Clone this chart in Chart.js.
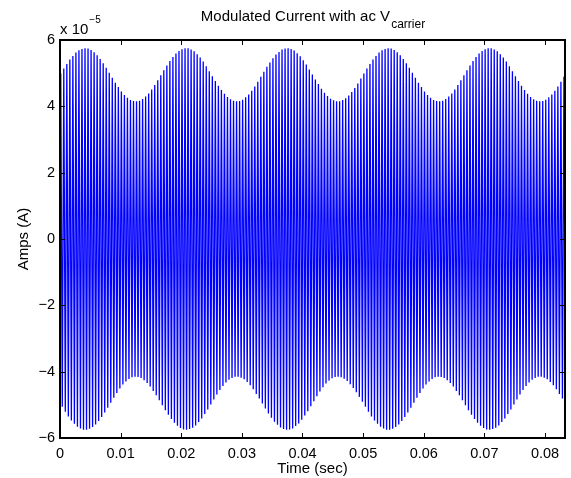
<!DOCTYPE html>
<html><head><meta charset="utf-8">
<script src="https://cdn.jsdelivr.net/npm/chart.js@4/dist/chart.umd.min.js"></script>
<style>html,body{margin:0;padding:0;background:#fff;}#wrap{position:relative;width:571px;height:478px;}</style>
</head><body><div id="wrap"><canvas id="c" width="571" height="478"></canvas></div>
<script>
const titleMain = 'Modulated Current with ac V';
const titleSub = 'carrier';
const xLabel = 'Time (sec)';
const yLabel = 'Amps (A)';
const yScaleBase = 'x 10';
const yScaleExp = '\u22125';
const xTickValues = [0, 0.01, 0.02, 0.03, 0.04, 0.05, 0.06, 0.07, 0.08];
const xTickLabels = ['0', '0.01', '0.02', '0.03', '0.04', '0.05', '0.06', '0.07', '0.08'];
const yTickValues = [-6, -4, -2, 0, 2, 4, 6];
const yTickLabels = ['\u22126', '\u22124', '\u22122', '0', '2', '4', '6'];
const xMin = 0, xMax = 0.0833;
const yMin = -6, yMax = 6;
// carrier half-cycle peaks (units of 1e-5 A), first at 0.125 ms, one every 0.25 ms
const sampleStart = 0.000125;
const sampleStep = 0.00025;
const currentPeaks = [
 4.99,-5.06,5.14,-5.21,5.28,-5.35,5.41,-5.47,5.52,-5.57,
 5.62,-5.66,5.69,-5.71,5.73,-5.75,5.75,-5.75,5.74,-5.72,
 5.70,-5.67,5.63,-5.59,5.54,-5.49,5.43,-5.37,5.30,-5.23,
 5.16,-5.09,5.01,-4.94,4.86,-4.79,4.71,-4.64,4.58,-4.51,
 4.45,-4.39,4.34,-4.30,4.26,-4.22,4.19,-4.17,4.16,-4.15,
 4.15,-4.16,4.17,-4.19,4.22,-4.26,4.30,-4.34,4.39,-4.45,
 4.51,-4.58,4.64,-4.71,4.79,-4.86,4.94,
 -5.01,5.09,-5.16,5.23,-5.30,5.37,-5.43,5.49,-5.54,5.59,
 -5.63,5.67,-5.70,5.72,-5.74,5.75,-5.75,5.75,-5.73,5.71,
 -5.69,5.66,-5.62,5.57,-5.52,5.47,-5.41,5.35,-5.28,5.21,
 -5.14,5.06,-4.99,4.91,-4.84,4.76,-4.69,4.62,-4.55,4.49,
 -4.43,4.38,-4.33,4.28,-4.24,4.21,-4.19,4.17,-4.15,4.15,
 -4.15,4.16,-4.18,4.20,-4.23,4.27,-4.31,4.36,-4.41,4.47,
 -4.53,4.60,-4.67,4.74,-4.81,4.89,
 -4.96,5.04,-5.11,5.19,-5.26,5.32,-5.39,5.45,-5.51,5.56,
 -5.60,5.64,-5.68,5.71,-5.73,5.74,-5.75,5.75,-5.74,5.73,
 -5.71,5.68,-5.64,5.60,-5.56,5.51,-5.45,5.39,-5.32,5.26,
 -5.19,5.11,-5.04,4.96,-4.89,4.81,-4.74,4.67,-4.60,4.53,
 -4.47,4.41,-4.36,4.31,-4.27,4.23,-4.20,4.18,-4.16,4.15,
 -4.15,4.15,-4.17,4.19,-4.21,4.24,-4.28,4.33,-4.38,4.43,
 -4.49,4.55,-4.62,4.69,-4.76,4.84,-4.91,
 4.99,-5.06,5.14,-5.21,5.28,-5.35,5.41,-5.47,5.52,-5.57,
 5.62,-5.66,5.69,-5.71,5.73,-5.75,5.75,-5.75,5.74,-5.72,
 5.70,-5.67,5.63,-5.59,5.54,-5.49,5.43,-5.37,5.30,-5.23,
 5.16,-5.09,5.01,-4.94,4.86,-4.79,4.71,-4.64,4.58,-4.51,
 4.45,-4.39,4.34,-4.30,4.26,-4.22,4.19,-4.17,4.16,-4.15,
 4.15,-4.16,4.17,-4.19,4.22,-4.26,4.30,-4.34,4.39,-4.45,
 4.51,-4.58,4.64,-4.71,4.79,-4.86,4.94,
 -5.01,5.09,-5.16,5.23,-5.30,5.37,-5.43,5.49,-5.54,5.59,
 -5.63,5.67,-5.70,5.72,-5.74,5.75,-5.75,5.75,-5.73,5.71,
 -5.69,5.66,-5.62,5.57,-5.52,5.47,-5.41,5.35,-5.28,5.21,
 -5.14,5.06,-4.99,4.91,-4.84,4.76,-4.69,4.62,-4.55,4.49,
 -4.43,4.38,-4.33,4.28,-4.24,4.21,-4.19,4.17,-4.15,4.15,
 -4.15,4.16,-4.18,4.20,-4.23,4.27,-4.31,4.36,-4.41,4.47,
 -4.53,4.60,-4.67,4.74,-4.81,4.89,
 -4.96
];

const points = currentPeaks.map((v, i) => ({x: sampleStart + sampleStep * i, y: v}));
const FONT = 'Liberation Sans, Arial, Helvetica, sans-serif';

const decor = {
  id: 'decor',
  afterDraw(chart) {
    const ctx = chart.ctx;
    const a = chart.chartArea;
    const xs = chart.scales.x, ys = chart.scales.y;
    ctx.save();
    ctx.strokeStyle = '#000';
    ctx.lineWidth = 2;
    ctx.strokeRect(a.left, a.top, a.right - a.left, a.bottom - a.top);
    ctx.lineWidth = 1;
    const tl = 5;
    ctx.beginPath();
    xTickValues.forEach(v => {
      const px = Math.round(xs.getPixelForValue(v)) + 0.5;
      ctx.moveTo(px, a.bottom); ctx.lineTo(px, a.bottom - tl);
      ctx.moveTo(px, a.top); ctx.lineTo(px, a.top + tl);
    });
    yTickValues.forEach(v => {
      const py = Math.round(ys.getPixelForValue(v)) + 0.5;
      ctx.moveTo(a.left, py); ctx.lineTo(a.left + tl, py);
      ctx.moveTo(a.right, py); ctx.lineTo(a.right - tl, py);
    });
    ctx.stroke();
    ctx.fillStyle = '#000';
    ctx.textBaseline = 'alphabetic';
    ctx.font = '15px ' + FONT;
    const wMain = ctx.measureText(titleMain).width;
    ctx.font = '12px ' + FONT;
    const wSub = ctx.measureText(titleSub).width;
    const cx = (a.left + a.right) / 2;
    const tx = cx - (wMain + wSub) / 2;
    ctx.textAlign = 'left';
    ctx.font = '15px ' + FONT;
    ctx.fillText(titleMain, tx, 21);
    ctx.font = '12px ' + FONT;
    ctx.fillText(titleSub, tx + wMain + 1, 28);
    ctx.font = '15px ' + FONT;
    ctx.fillText(yScaleBase, a.left, 33.5);
    const wb = ctx.measureText(yScaleBase).width;
    ctx.font = '10px ' + FONT;
    ctx.fillText(yScaleExp, a.left + wb + 1, 23);
    ctx.font = '15px ' + FONT;
    ctx.textAlign = 'center';
    ctx.fillText(xLabel, cx, 473);
    ctx.save();
    ctx.translate(27.5, (a.top + a.bottom) / 2);
    ctx.rotate(-Math.PI / 2);
    ctx.fillText(yLabel, 0, 0);
    ctx.restore();
    ctx.restore();
  }
};

new Chart(document.getElementById('c'), {
  type: 'line',
  data: {
    datasets: [{
      data: points,
      borderColor: 'rgb(0,0,255)',
      borderWidth: 1.3,
      pointRadius: 0,
      tension: 0,
      fill: false
    }]
  },
  options: {
    responsive: false,
    devicePixelRatio: 1,
    animation: false,
    parsing: false,
    layout: {padding: {left: 0, right: 6, top: 40, bottom: 0}},
    plugins: {legend: {display: false}, tooltip: {enabled: false}, title: {display: false}},
    scales: {
      x: {
        type: 'linear', min: xMin, max: xMax,
        afterFit(s) { s.height = 40; },
        afterBuildTicks(s) { s.ticks = xTickValues.map(v => ({value: v})); },
        grid: {display: false, drawTicks: false},
        border: {display: false},
        ticks: {
          autoSkip: false, maxRotation: 0, includeBounds: false, padding: 7, color: '#000',
          font: {family: FONT, size: 14.5},
          callback: (v, i) => xTickLabels[i]
        }
      },
      y: {
        type: 'linear', min: yMin, max: yMax,
        afterFit(s) { s.width = 60; },
        afterBuildTicks(s) { s.ticks = yTickValues.map(v => ({value: v})); },
        grid: {display: false, drawTicks: false},
        border: {display: false},
        ticks: {
          autoSkip: false, includeBounds: false, padding: 5, color: '#000',
          font: {family: FONT, size: 14.5},
          callback: (v, i) => yTickLabels[i]
        }
      }
    }
  },
  plugins: [decor]
});
</script>
</body></html>
